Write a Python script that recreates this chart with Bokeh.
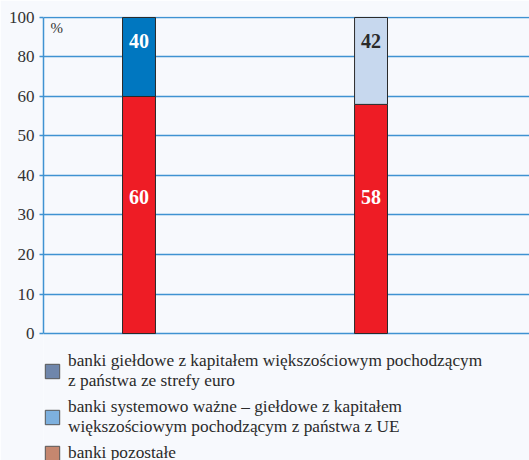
from bokeh.plotting import figure
from bokeh.models import Range1d, FixedTicker, Legend, LegendItem, Label
from bokeh.core.properties import value
from bokeh.embed import file_html
from bokeh.resources import INLINE

# ---- data ----
groups = [1, 2]
bottom_vals = [60, 58]
top_vals = [40, 42]
bottom_color = "#ee1c25"
top_colors = ["#0077c0", "#c7d8ee"]
top_label_colors = ["#ffffff", "#2a2a2a"]
tick_values = [0, 10, 20, 30, 40, 50, 60, 80, 100]
legend_labels = [
    "banki giełdowe z kapitałem większościowym pochodzącym\nz państwa ze strefy euro",
    "banki systemowo ważne – giełdowe z kapitałem\nwiększościowym pochodzącym z państwa z UE",
    "banki pozostałe",
]
legend_colors = ["#6f86ab", "#7db0de", "#c5876f"]

BREAK = 60
def t(v):
    # axis is linear up to 60, then compressed by half up to 100
    return v if v <= BREAK else BREAK + (v - BREAK) / 2

BG = "#f7f9fd"
GRID = "#3f92d2"
FONT = "Liberation Serif"

# frame extends down to the page bottom so the legend can sit inside it
p = figure(width=529, height=460, output_backend="svg", toolbar_location=None,
           x_axis_location=None,
           x_range=Range1d(0.5884, 2.683), y_range=Range1d(-32.15, 80.25),
           min_border_left=43, min_border_top=16, min_border_bottom=0, min_border_right=0)
p.background_fill_color = BG
p.border_fill_color = BG
p.outline_line_color = None

tick_pos = [t(v) for v in tick_values]
p.yaxis.bounds = (t(0), t(100))
p.yaxis.ticker = FixedTicker(ticks=tick_pos)
p.yaxis.major_label_overrides = {tp: str(v) for tp, v in zip(tick_pos, tick_values)}
p.yaxis.axis_line_color = GRID
p.yaxis.axis_line_width = 1.5
p.yaxis.major_tick_line_color = GRID
p.yaxis.major_tick_line_width = 1.5
p.yaxis.major_tick_out = 4
p.yaxis.major_tick_in = 0
p.yaxis.minor_tick_line_color = None
p.yaxis.major_label_standoff = 5
p.yaxis.major_label_text_font = FONT
p.yaxis.major_label_text_font_size = "17px"
p.yaxis.major_label_text_color = "#333333"
p.ygrid.ticker = FixedTicker(ticks=tick_pos)
p.ygrid.grid_line_color = GRID
p.ygrid.grid_line_width = 1.5
p.xgrid.grid_line_color = None

bar_w = 0.142
p.vbar(x=groups, bottom=0, top=[t(v) for v in bottom_vals], width=bar_w,
       fill_color=bottom_color, line_color="#2a2a2a", line_width=1)
p.vbar(x=groups, bottom=[t(b) for b in bottom_vals],
       top=[t(b + v) for b, v in zip(bottom_vals, top_vals)], width=bar_w,
       fill_color=top_colors, line_color="#2a2a2a", line_width=1)

# value labels
p.text(x=groups, y=[t(b + v) for b, v in zip(bottom_vals, top_vals)],
       text=[str(v) for v in top_vals], y_offset=24,
       text_align="center", text_baseline="middle", text_color=top_label_colors,
       text_font=value(FONT), text_font_style="bold", text_font_size="20px")
p.text(x=groups, y=[34.5] * len(groups), text=[str(v) for v in bottom_vals],
       text_align="center", text_baseline="middle", text_color="#ffffff",
       text_font=value(FONT), text_font_style="bold", text_font_size="20px")

p.add_layout(Label(x=0.5884, y=t(100), x_offset=7, y_offset=-3, text="%",
                   text_baseline="top", text_font=FONT, text_font_size="15px",
                   text_color="#333333"))

# legend (swatches only; the dummy bars have zero height and are hidden)
items = []
for lab, col in zip(legend_labels, legend_colors):
    r = p.vbar(x=groups[:1], bottom=[0], top=[0], width=bar_w,
               fill_color=col, line_color="#555555", visible=False)
    items.append(LegendItem(label=lab, renderers=[r]))
legend = Legend(items=items, location=(0, -3), margin=0, padding=0,
                glyph_width=18, glyph_height=18, label_standoff=7, spacing=6,
                border_line_color=None, background_fill_alpha=0,
                label_text_font=FONT, label_text_font_size="17.3px",
                label_text_color="#2b2b2b", label_text_line_height=1.1)
p.add_layout(legend)

open("out.html", "w").write(file_html(p, INLINE))
